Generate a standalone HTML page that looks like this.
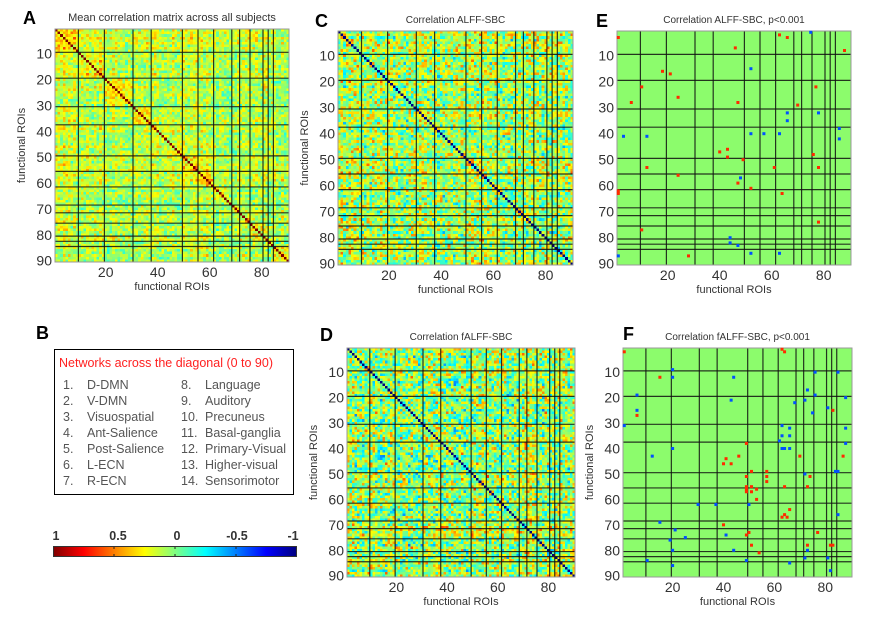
<!DOCTYPE html>
<html><head><meta charset="utf-8">
<style>
html,body{margin:0;padding:0;background:#fff;}
#root{position:relative;width:870px;height:618px;overflow:hidden;font-family:"Liberation Sans",sans-serif;}
canvas{position:absolute;image-rendering:pixelated;}
svg{position:absolute;left:0;top:0;}
</style></head>
<body>
<div id="root">
<canvas id="cA"></canvas>
<canvas id="cC"></canvas>
<canvas id="cD"></canvas>
<svg id="sv" width="870" height="618">
<defs>
<linearGradient id="jetg" x1="0" x2="1" y1="0" y2="0">
<stop offset="0" stop-color="#800000"/><stop offset="0.125" stop-color="#ff0000"/>
<stop offset="0.375" stop-color="#ffff00"/><stop offset="0.5" stop-color="#80ff80"/>
<stop offset="0.625" stop-color="#00ffff"/><stop offset="0.875" stop-color="#0000ff"/>
<stop offset="1" stop-color="#000080"/>
</linearGradient>
</defs>
<g font-family="Liberation Sans, sans-serif" font-weight="bold" font-size="18" fill="#000">
<text x="23" y="24">A</text>
<text x="315" y="27">C</text>
<text x="596" y="27">E</text>
<text x="36" y="339">B</text>
<text x="320" y="341">D</text>
<text x="623" y="340">F</text>
</g>
<g>
<rect x="54.5" y="349.5" width="239" height="145" fill="#fff" stroke="#000" stroke-width="1"/>
<text x="59" y="367" font-size="12.5" fill="#ff2020">Networks across the diagonal (0 to 90)</text>
<g font-size="12.5" fill="#555">
<text x="63" y="389">1.</text><text x="87" y="389">D-DMN</text>
<text x="63" y="405">2.</text><text x="87" y="405">V-DMN</text>
<text x="63" y="421">3.</text><text x="87" y="421">Visuospatial</text>
<text x="63" y="437">4.</text><text x="87" y="437">Ant-Salience</text>
<text x="63" y="453">5.</text><text x="87" y="453">Post-Salience</text>
<text x="63" y="469">6.</text><text x="87" y="469">L-ECN</text>
<text x="63" y="485">7.</text><text x="87" y="485">R-ECN</text>
<text x="181" y="389">8.</text><text x="205" y="389">Language</text>
<text x="181" y="405">9.</text><text x="205" y="405">Auditory</text>
<text x="181" y="421">10.</text><text x="205" y="421">Precuneus</text>
<text x="181" y="437">11.</text><text x="205" y="437">Basal-ganglia</text>
<text x="181" y="453">12.</text><text x="205" y="453">Primary-Visual</text>
<text x="181" y="469">13.</text><text x="205" y="469">Higher-visual</text>
<text x="181" y="485">14.</text><text x="205" y="485">Sensorimotor</text>
</g>
</g>
<g>
<rect x="53.5" y="546.5" width="243" height="10" fill="url(#jetg)" stroke="#333" stroke-width="1"/>
<g stroke="#222" stroke-width="1">
<line x1="114" y1="547" x2="114" y2="549"/><line x1="114" y1="554" x2="114" y2="556"/>
<line x1="175" y1="547" x2="175" y2="549"/><line x1="175" y1="554" x2="175" y2="556"/>
<line x1="236" y1="547" x2="236" y2="549"/><line x1="236" y1="554" x2="236" y2="556"/>
</g>
<g font-size="12.5" font-weight="bold" fill="#333" text-anchor="middle">
<text x="56" y="540">1</text><text x="118" y="540">0.5</text><text x="177" y="540">0</text><text x="237" y="540">-0.5</text><text x="293" y="540">-1</text>
</g>
</g>
<g id="axes"></g>
</svg>
</div>
<script>
// Network boundaries (ROI index where each network ends)
const boundaries = [9, 19, 30, 37, 49, 55, 61, 68, 71, 75, 80, 82, 84];
const yTicks = [10, 20, 30, 40, 50, 60, 70, 80, 90];
const xTicks = [20, 40, 60, 80];
const nROI = 90;
// Heatmap block levels per network (A: mean correlation; C, D: ALFF/fALFF-SBC)
const levelA = [0.2, 0.15, 0.08, 0.17, 0.1, 0.17, 0.15, 0.0, 0.12, 0.1, 0.14, 0.1, 0.08, 0.06];
const withinA = [0.12, 0.1, 0.14, 0.15, 0.08, 0.15, 0.15, 0.15, 0.2, 0.1, 0.15, 0.2, 0.2, 0.2];
const levelC = [0.14, 0.1, 0.06, 0.12, 0.04, 0.14, 0.14, 0.02, 0.1, 0.12, 0.08, 0.04, 0.12, 0.07];
const levelD = [0.1, 0.04, 0.0, 0.07, 0.0, 0.14, 0.1, 0.0, 0.14, 0.14, 0.07, 0.07, 0.12, 0.07];
const diagA = 1, diagC = -1, diagD = -1;
// Significant points [column, row] for p<0.001 panels
const eRed = [[1,3],[46,7],[88,8],[18,16],[21,17],[10,22],[77,22],[24,26],[6,28],[47,28],[70,29],[40,47],[43,46],[43,49],[76,48],[49,50],[12,53],[61,53],[78,53],[24,56],[47,59],[52,61],[64,63],[1,62],[1,63],[78,74],[10,77],[28,87],[63,2],[66,3]];
const eBlue = [[75,1],[52,15],[66,32],[78,32],[66,35],[3,41],[12,41],[52,40],[57,40],[63,40],[86,38],[86,42],[48,57],[44,80],[44,82],[47,83],[52,86],[63,86],[1,87]];
const fRed = [[1,2],[15,12],[6,27],[63,1],[64,2],[83,25],[49,38],[41,44],[40,46],[43,46],[46,43],[70,43],[87,43],[51,49],[49,51],[57,49],[57,51],[57,53],[49,55],[49,56],[49,57],[51,55],[51,57],[53,56],[53,60],[64,55],[73,55],[74,51],[66,64],[64,66],[63,67],[65,67],[40,70],[49,74],[50,73],[77,73],[51,78],[73,78],[82,78],[83,78],[54,81]];
const fBlue = [[20,9],[20,12],[44,12],[6,19],[6,25],[1,31],[43,21],[20,40],[12,43],[76,10],[85,10],[73,17],[76,19],[88,20],[68,22],[72,21],[75,26],[81,24],[63,31],[66,32],[63,35],[66,35],[62,37],[63,40],[64,40],[66,40],[88,32],[88,38],[72,50],[84,49],[85,49],[30,62],[37,62],[50,62],[15,69],[21,72],[19,76],[25,75],[41,74],[20,80],[44,80],[10,84],[20,86],[49,84],[66,85],[72,83],[81,83],[73,80],[82,88],[85,66]];

const NS = "http://www.w3.org/2000/svg";
const axes = document.getElementById('axes');
function jet(v){ // v in [-1,1]; 1 -> dark red
  const t = Math.max(0, Math.min(1, (v + 1) / 2));
  const c = x => Math.round(255 * Math.max(0, Math.min(1, x)));
  return [c(1.5 - Math.abs(4*t - 3)), c(1.5 - Math.abs(4*t - 2)), c(1.5 - Math.abs(4*t - 1))];
}
function netOf(i){ let k = 0; while (k < boundaries.length && i >= boundaries[k]) k++; return k; }
function hash(a, b, s){ let h = (a*374761393 + b*668265263 + s*2147483647) | 0; h = (h ^ (h >>> 13)) * 1274126177 | 0; h = h ^ (h >>> 16); return ((h >>> 0) % 10000) / 10000; }
function cellValue(i, j, level, within, diag, seed, spread){
  if (i === j) return diag;
  const a = Math.min(i, j), b = Math.max(i, j);
  const ni = netOf(a), nj = netOf(b);
  let v = (level[ni] + level[nj]) / 2;
  if (ni === nj && within) v += within[ni];
  const n1 = hash(a, b, seed) - 0.5, n2 = hash(b, a, seed + 7) - 0.5;
  const rowEff = (hash(a, 999, seed + 3) - 0.5) + (hash(b, 999, seed + 3) - 0.5);
  v += spread * (n1 + n2 * 0.5) + 0.12 * rowEff;
  return v;
}
function sx(cfg, k){ return cfg.x + k * cfg.w / nROI; }
function sy(cfg, k){ return cfg.y + k * cfg.h / nROI; }
function drawHeat(id, cfg, level, within, diag, seed, spread){
  const cv = document.getElementById(id);
  cv.width = nROI; cv.height = nROI;
  cv.style.left = cfg.x + 'px'; cv.style.top = cfg.y + 'px';
  cv.style.width = cfg.w + 'px'; cv.style.height = cfg.h + 'px';
  const ctx = cv.getContext('2d');
  const img = ctx.createImageData(nROI, nROI);
  for (let r = 0; r < nROI; r++) for (let c = 0; c < nROI; c++) {
    const col = jet(cellValue(r, c, level, within, diag, seed, spread));
    const p = (r * nROI + c) * 4;
    img.data[p] = col[0]; img.data[p+1] = col[1]; img.data[p+2] = col[2]; img.data[p+3] = 255;
  }
  ctx.putImageData(img, 0, 0);
}
function svgEl(tag, attrs, parent){
  const e = document.createElementNS(NS, tag);
  for (const k in attrs) e.setAttribute(k, attrs[k]);
  (parent || axes).appendChild(e);
  return e;
}
function drawFrame(cfg, name){
  const g = svgEl('g', {});
  
  
  if (cfg.bg) {
    const bg = svgEl('rect', {x: cfg.x, y: cfg.y, width: cfg.w, height: cfg.h, fill: cfg.bg}, g);
    
    
  }
  boundaries.forEach(b => {
    const lv = svgEl('line', {x1: sx(cfg, b), x2: sx(cfg, b), y1: cfg.y, y2: cfg.y + cfg.h, stroke: '#111', 'stroke-width': 1.2, 'stroke-opacity': 0.85}, g);
    
    
    const lh = svgEl('line', {x1: cfg.x, x2: cfg.x + cfg.w, y1: sy(cfg, b), y2: sy(cfg, b), stroke: '#111', 'stroke-width': 1.2, 'stroke-opacity': 0.85}, g);
    
    
  });
  const fr = svgEl('rect', {x: cfg.x, y: cfg.y, width: cfg.w, height: cfg.h, fill: 'none', stroke: '#999', 'stroke-width': 1}, g);
  
  
  yTicks.forEach(t => {
    const tx = svgEl('text', {x: cfg.x - 3, y: sy(cfg, t - 0.5) + 5, 'font-size': 14, fill: '#333', 'text-anchor': 'end'}, g);
    tx.textContent = t;
    
    
  });
  xTicks.forEach(t => {
    const tx = svgEl('text', {x: sx(cfg, t - 0.5), y: cfg.y + cfg.h + 15, 'font-size': 14, fill: '#333', 'text-anchor': 'middle'}, g);
    tx.textContent = t;
    
    
  });
  const xl = svgEl('text', {x: cfg.x + cfg.w / 2, y: cfg.y + cfg.h + 28, 'font-size': 11, fill: '#333', 'text-anchor': 'middle'}, g);
  xl.textContent = 'functional ROIs';
  
  
  if (cfg.ylab) {
    const yx = cfg.x - 30, yy = cfg.y + cfg.h / 2;
    const yl = svgEl('text', {x: yx, y: yy, 'font-size': 11, fill: '#333', 'text-anchor': 'middle', transform: 'rotate(-90 ' + yx + ' ' + yy + ')'}, g);
    yl.textContent = 'functional ROIs';
    
    
  }
  const ti = svgEl('text', {x: cfg.x + cfg.w / 2, y: cfg.y - 8, 'font-size': cfg.tfs || 10, fill: '#333', 'text-anchor': 'middle'}, g);
  ti.textContent = cfg.title;
  
  
  return g;
}
function drawDots(cfg, pts, color, g){
  pts.forEach(p => {
    const d = svgEl('rect', {x: sx(cfg, p[0] - 0.5) - 1.5, y: sy(cfg, p[1] - 0.5) - 1.5, width: 3, height: 3, fill: color}, g);
    
    
  });
}
const A = {x: 55, y: 29, w: 234, h: 233, title: 'Mean correlation matrix across all subjects', ylab: true, tfs: 11};
const C = {x: 338, y: 31, w: 235, h: 234, title: 'Correlation ALFF-SBC', ylab: true};
const E = {x: 617, y: 31, w: 234, h: 234, title: 'Correlation ALFF-SBC, p<0.001', ylab: false, bg: '#8cfc6c'};
const D = {x: 347, y: 348, w: 228, h: 229, title: 'Correlation fALFF-SBC', ylab: true};
const F = {x: 623, y: 348, w: 229, h: 229, title: 'Correlation fALFF-SBC, p<0.001', ylab: true, bg: '#8cfc6c'};
drawHeat('cA', A, levelA, withinA, diagA, 11, 0.36);
drawHeat('cC', C, levelC, null, diagC, 23, 0.62);
drawHeat('cD', D, levelD, null, diagD, 37, 0.66);
drawFrame(A, 'panel-a');
drawFrame(C, 'panel-c');
drawFrame(D, 'panel-d');
const gE = drawFrame(E, 'panel-e');
drawDots(E, eRed, '#ff2a00', gE);
drawDots(E, eBlue, '#0050ff', gE);
const gF = drawFrame(F, 'panel-f');
drawDots(F, fRed, '#ff2a00', gF);
drawDots(F, fBlue, '#0050ff', gF);
</script>
</body></html>
